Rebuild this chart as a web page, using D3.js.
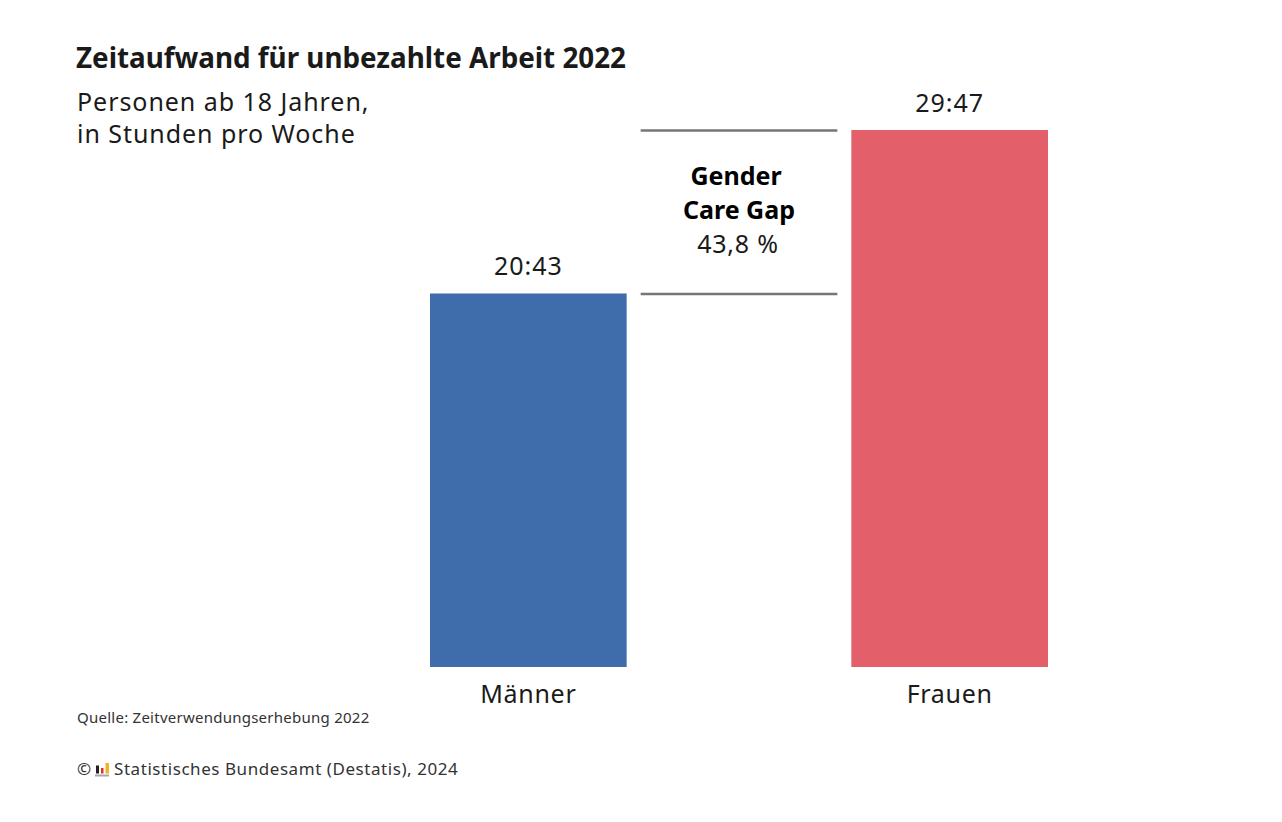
<!DOCTYPE html>
<html lang="de">
<head>
<meta charset="utf-8">
<title>Zeitaufwand für unbezahlte Arbeit 2022</title>
<script src="https://cdn.jsdelivr.net/npm/d3@7"></script>
<style>
  html, body { margin: 0; padding: 0; background: #fff; }
  svg { display: block; }
  text { font-family: "Noto Sans", "Open Sans", sans-serif; fill: #1a1a1a; }
</style>
</head>
<body>
<div id="chart"></div>
<script>
// values, time in hours : minutes
const categories = ["Männer", "Frauen"];
const timeLabels = ["20:43", "29:47"];
const hours = [20 + 43 / 60, 29 + 47 / 60];
const barColors = ["#3f6cab", "#e3606b"];
const gapColumn = "Gap";
const gapLabels = ["Gender", "Care Gap"];
const gapValue = "43,8 %";
const subtitleLines = ["Personen ab 18 Jahren,", "in Stunden pro Woche"];

const svg = d3.select("#chart")
    .append("svg")
    .attr("width", 1282)
    .attr("height", 822);

// the gap bracket sits in its own column between the two bars
const x = d3.scaleBand()
    .domain([categories[0], gapColumn, categories[1]])
    .range([430, 1048])
    .paddingInner(0.0665);

const y = d3.scaleLinear()
    .domain([0, hours[1]])
    .range([667, 130]);

// title block
svg.append("text")
    .attr("x", 76).attr("y", 68)
    .attr("font-size", 28).attr("font-weight", 700)
    .attr("textLength", 550).attr("lengthAdjust", "spacingAndGlyphs")
    .text("Zeitaufwand für unbezahlte Arbeit 2022");

svg.selectAll(".subtitle")
    .data(subtitleLines)
    .enter()
    .append("text")
    .attr("class", "subtitle")
    .attr("x", 77)
    .attr("y", (d, i) => 111 + i * 32)
    .attr("font-size", 25)
    .attr("letter-spacing", 0.95)
    .text(d => d);

// bars
svg.selectAll(".bar")
    .data(categories)
    .enter()
    .append("rect")
    .attr("class", "bar")
    .attr("x", d => x(d))
    .attr("y", (d, i) => y(hours[i]))
    .attr("width", x.bandwidth())
    .attr("height", (d, i) => y(0) - y(hours[i]))
    .attr("fill", (d, i) => barColors[i]);

// value labels
svg.selectAll(".value")
    .data(categories)
    .enter()
    .append("text")
    .attr("class", "value")
    .attr("x", d => x(d) + x.bandwidth() / 2)
    .attr("y", (d, i) => y(hours[i]) - 18)
    .attr("text-anchor", "middle")
    .attr("font-size", 25)
    .attr("letter-spacing", 1)
    .text((d, i) => timeLabels[i]);

// category axis
const axis = svg.append("g")
    .attr("transform", `translate(0, ${y(0)})`)
    .call(d3.axisBottom(x).tickValues(categories).tickSize(0).tickPadding(18));
axis.select(".domain").remove();
axis.selectAll(".tick text")
    .style("font-family", '"Noto Sans", sans-serif')
    .attr("font-size", 25)
    .attr("letter-spacing", 0.7)
    .attr("fill", "#1a1a1a");

// gender care gap bracket
svg.selectAll(".gap-line")
    .data(hours)
    .enter()
    .append("line")
    .attr("class", "gap-line")
    .attr("x1", x(gapColumn))
    .attr("x2", x(gapColumn) + x.bandwidth())
    .attr("y1", d => y(d) + 0.5)
    .attr("y2", d => y(d) + 0.5)
    .attr("stroke", "#767676")
    .attr("stroke-width", 2.5);

svg.selectAll(".gap-label")
    .data(gapLabels)
    .enter()
    .append("text")
    .attr("class", "gap-label")
    .attr("x", (d, i) => x(gapColumn) + x.bandwidth() / 2 - (i === 0 ? 3 : 0))
    .attr("y", (d, i) => 185 + i * 34)
    .attr("text-anchor", "middle")
    .attr("font-size", 25)
    .attr("font-weight", 700)
    .style("fill", "#000")
    .text(d => d);

svg.append("text")
    .attr("x", x(gapColumn) + x.bandwidth() / 2 - 1)
    .attr("y", 253)
    .attr("text-anchor", "middle")
    .attr("font-size", 25)
    .attr("letter-spacing", 0.8)
    .text(gapValue);

// source and copyright
svg.append("text")
    .attr("x", 77).attr("y", 723)
    .attr("font-size", 15)
    .attr("letter-spacing", 0.25)
    .style("fill", "#333")
    .text("Quelle: Zeitverwendungserhebung 2022");

svg.append("text")
    .attr("x", 77).attr("y", 775)
    .attr("font-size", 17)
    .style("fill", "#333")
    .text("©");

// small Destatis logo
const logo = svg.append("g").attr("transform", "translate(95, 763)");
logo.append("rect").attr("x", 0).attr("y", 11.5).attr("width", 14).attr("height", 2).attr("fill", "#a8a8a8");
logo.append("rect").attr("x", 1).attr("y", 2.5).attr("width", 3).attr("height", 8).attr("fill", "#222");
logo.append("rect").attr("x", 6).attr("y", 5).attr("width", 2.5).attr("height", 5.5).attr("fill", "#d8332b");
logo.append("rect").attr("x", 10.5).attr("y", 0).attr("width", 3.5).attr("height", 10.5).attr("fill", "#f0b429");

svg.append("text")
    .attr("x", 114).attr("y", 775)
    .attr("font-size", 17)
    .attr("letter-spacing", 0.56)
    .style("fill", "#333")
    .text("Statistisches Bundesamt (Destatis), 2024");
</script>
</body>
</html>
